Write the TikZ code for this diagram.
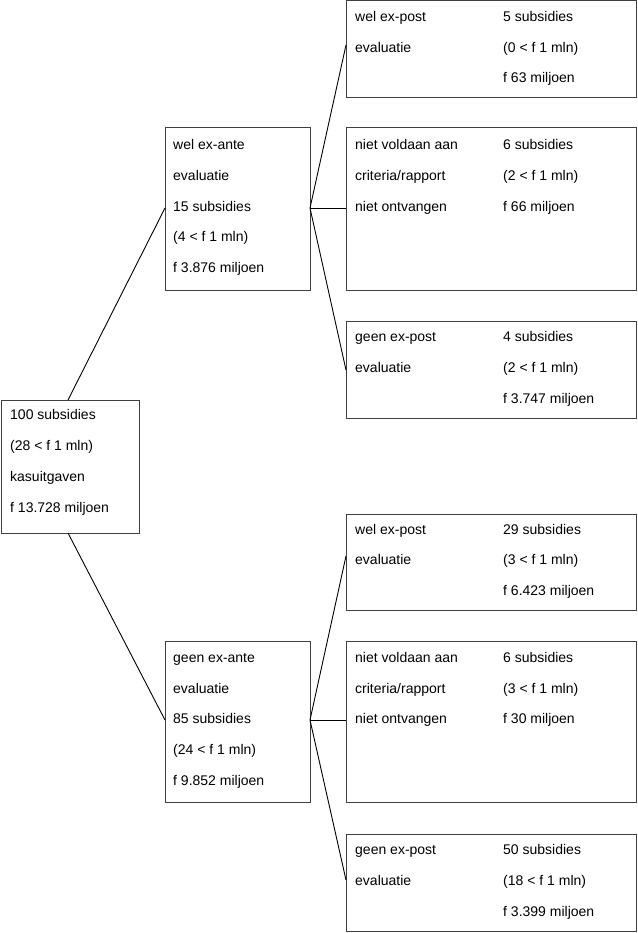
\documentclass[tikz,border=0pt]{standalone}
\usepackage{fontspec}
\setmainfont{Liberation Sans}
\begin{document}
\begin{tikzpicture}[x=1pt,y=-1pt,
  box/.style={draw=black!75, line width=1pt, inner sep=0pt, rectangle},
  lbl/.style={anchor=base west, inner sep=0pt, yshift=-1.5pt, font=\fontsize{14}{16}\selectfont},
  conn/.style={draw=black, line width=0.9pt}]
\useasboundingbox (0,0) rectangle (637,933);
% boxes
\node[box, minimum width=138pt, minimum height=133pt] (root) at (70,466.5) {};
\node[box, minimum width=145pt, minimum height=162pt] (mu) at (237.5,209) {};
\node[box, minimum width=145pt, minimum height=161pt] (ml) at (237.5,721.5) {};
\node[box, minimum width=290pt, minimum height=97pt] (r1) at (491,49.5) {};
\node[box, minimum width=290pt, minimum height=162pt] (r2) at (491,209) {};
\node[box, minimum width=290pt, minimum height=97pt] (r3) at (491,369.5) {};
\node[box, minimum width=290pt, minimum height=96pt] (r4) at (491,562) {};
\node[box, minimum width=290pt, minimum height=161pt] (r5) at (491,721.5) {};
\node[box, minimum width=290pt, minimum height=97pt] (r6) at (491,882.5) {};
% connector points
\coordinate (rootT) at (68,400);
\coordinate (rootB) at (68,533);
\coordinate (muL) at (165,208);
\coordinate (mlL) at (165,720);
\coordinate (muR) at (310,208);
\coordinate (mlR) at (310,720);
\coordinate (r1L) at (346,45);
\coordinate (r2L) at (346,208);
\coordinate (r3L) at (346,370);
\coordinate (r4L) at (346,556);
\coordinate (r5L) at (346,720);
\coordinate (r6L) at (346,880);
\draw[conn] (rootT) -- (muL);
\draw[conn] (rootB) -- (mlL);
\draw[conn] (muR) -- (r1L);
\draw[conn] (muR) -- (r2L);
\draw[conn] (muR) -- (r3L);
\draw[conn] (mlR) -- (r4L);
\draw[conn] (mlR) -- (r5L);
\draw[conn] (mlR) -- (r6L);
% root text
\node[lbl] (t01) at (10,418) {100 subsidies};
\node[lbl] (t02) at (10,449) {(28 < f 1 mln)};
\node[lbl] (t03) at (10,480) {kasuitgaven};
\node[lbl] (t04) at (10,511) {f 13.728 miljoen};
% mid upper
\node[lbl] (t11) at (173,148) {wel ex-ante};
\node[lbl] (t12) at (173,179) {evaluatie};
\node[lbl] (t13) at (173,210) {15 subsidies};
\node[lbl] (t14) at (173,240) {(4 < f 1 mln)};
\node[lbl] (t15) at (173,271) {f 3.876 miljoen};
% mid lower
\node[lbl] (t21) at (173,661) {geen ex-ante};
\node[lbl] (t22) at (173,692) {evaluatie};
\node[lbl] (t23) at (173,722) {85 subsidies};
\node[lbl] (t24) at (173,753) {(24 < f 1 mln)};
\node[lbl] (t25) at (173,784) {f 9.852 miljoen};
% r1
\node[lbl] (a1) at (355,20) {wel ex-post};
\node[lbl] (a2) at (355,51) {evaluatie};
\node[lbl] (a3) at (503,20) {5 subsidies};
\node[lbl] (a4) at (503,51) {(0 < f 1 mln)};
\node[lbl] (a5) at (503,81) {f 63 miljoen};
% r2
\node[lbl] (b1) at (355,148) {niet voldaan aan};
\node[lbl] (b2) at (355,179) {criteria/rapport};
\node[lbl] (b3) at (355,210) {niet ontvangen};
\node[lbl] (b4) at (503,148) {6 subsidies};
\node[lbl] (b5) at (503,179) {(2 < f 1 mln)};
\node[lbl] (b6) at (503,210) {f 66 miljoen};
% r3
\node[lbl] (c1) at (355,340) {geen ex-post};
\node[lbl] (c2) at (355,371) {evaluatie};
\node[lbl] (c3) at (503,340) {4 subsidies};
\node[lbl] (c4) at (503,371) {(2 < f 1 mln)};
\node[lbl] (c5) at (503,402) {f 3.747 miljoen};
% r4
\node[lbl] (d1) at (355,533) {wel ex-post};
\node[lbl] (d2) at (355,563) {evaluatie};
\node[lbl] (d3) at (503,533) {29 subsidies};
\node[lbl] (d4) at (503,563) {(3 < f 1 mln)};
\node[lbl] (d5) at (503,594) {f 6.423 miljoen};
% r5
\node[lbl] (e1) at (355,661) {niet voldaan aan};
\node[lbl] (e2) at (355,692) {criteria/rapport};
\node[lbl] (e3) at (355,722) {niet ontvangen};
\node[lbl] (e4) at (503,661) {6 subsidies};
\node[lbl] (e5) at (503,692) {(3 < f 1 mln)};
\node[lbl] (e6) at (503,722) {f 30 miljoen};
% r6
\node[lbl] (f1) at (355,853) {geen ex-post};
\node[lbl] (f2) at (355,884) {evaluatie};
\node[lbl] (f3) at (503,853) {50 subsidies};
\node[lbl] (f4) at (503,884) {(18 < f 1 mln)};
\node[lbl] (f5) at (503,915) {f 3.399 miljoen};
\end{tikzpicture}
\end{document}
